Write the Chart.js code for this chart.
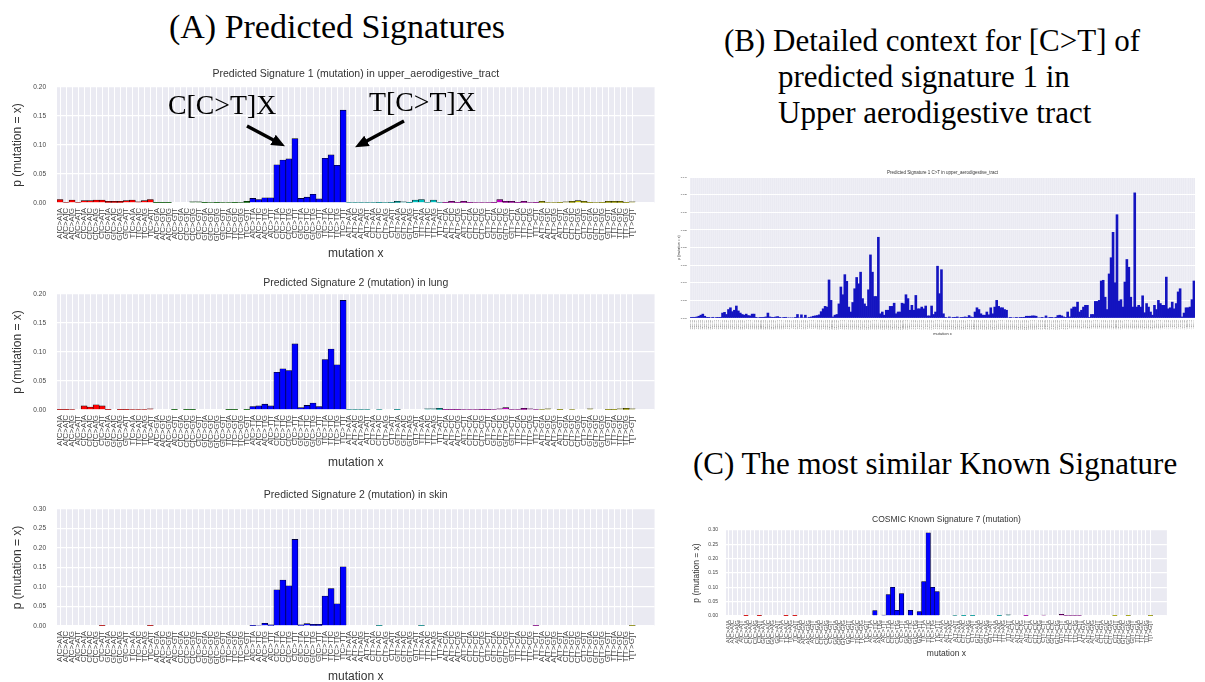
<!DOCTYPE html>
<html>
<head>
<meta charset="utf-8">
<script src="https://cdn.jsdelivr.net/npm/chart.js@4.4.1/dist/chart.umd.min.js"></script>
<style>
  html, body { margin: 0; padding: 0; background: #fff; width: 1205px; height: 682px; overflow: hidden; }
  .abs { position: absolute; white-space: nowrap; }
  .head { font-family: "Liberation Serif", "Times New Roman", serif; color: #000; line-height: 1; transform: translateY(-50%); }
  canvas { position: absolute; }
</style>
</head>
<body>

<div class="abs head" style="left:337px; top:27px; font-size:34px; transform:translate(-50%,-50%);">(A) Predicted Signatures</div>
<div class="abs head" style="left:724px; top:40px; font-size:31px;">(B) Detailed context for [C&gt;T] of</div>
<div class="abs head" style="left:778px; top:76px; font-size:31px;">predicted signature 1 in</div>
<div class="abs head" style="left:778px; top:112px; font-size:31px;">Upper aerodigestive tract</div>
<div class="abs head" style="left:693px; top:463px; font-size:31px;">(C) The most similar Known Signature</div>

<canvas id="sigUpper" width="665" height="205" style="left:0px; top:60px;"></canvas>
<canvas id="sigLung" width="665" height="204" style="left:0px; top:270px;"></canvas>
<canvas id="sigSkin" width="665" height="206" style="left:0px; top:482px;"></canvas>
<canvas id="ctxDetail" width="526" height="175" style="left:674px; top:165px;"></canvas>
<canvas id="cosmic7" width="490" height="152" style="left:685px; top:510px;"></canvas>

<div class="abs head" style="left:168px; top:105px; font-size:27.8px;">C[C&gt;T]X</div>
<div class="abs head" style="left:369px; top:102px; font-size:27.8px;">T[C&gt;T]X</div>
<svg class="abs" style="left:0; top:0;" width="1205" height="682">
  <defs>
    <marker id="arrowHead" markerWidth="4" markerHeight="3.4" refX="2" refY="1.7" orient="auto" markerUnits="strokeWidth">
      <path d="M0,0 L4,1.7 L0,3.4 z" fill="#000"/>
    </marker>
  </defs>
  <line x1="247" y1="126" x2="279" y2="143" stroke="#000" stroke-width="3.4" marker-end="url(#arrowHead)"/>
  <line x1="404" y1="121" x2="361" y2="144" stroke="#000" stroke-width="3.4" marker-end="url(#arrowHead)"/>
</svg>

<script>
// ---- categories ----
const BASES = ['A', 'C', 'G', 'T'];
const SUBSTITUTIONS = ['C>A', 'C>G', 'C>T', 'T>A', 'T>C', 'T>G'];
const GROUP_COLORS = ['#ff0000', '#008000', '#0000ff', '#00bfbf', '#bf00bf', '#bfbf00'];

// ---- 96-channel signatures (one row of 16 per substitution class) ----
const sigUpperAerodigestive = [
  0.006, 0.001, 0.005, 0.001, 0.004, 0.004, 0.005, 0.005, 0.003, 0.003, 0.003, 0.004, 0.005, 0.002, 0.004, 0.006,
  0.0005, 0.0005, 0.0005, 0, 0, 0, 0.002, 0.002, 0.0005, 0.001, 0.0005, 0.001, 0.001, 0.0005, 0.001, 0.003,
  0.008, 0.006, 0.009, 0.009, 0.066, 0.074, 0.076, 0.111, 0.008, 0.010, 0.015, 0.007, 0.077, 0.083, 0.065, 0.160,
  0.001, 0.001, 0.001, 0.001, 0.001, 0.0005, 0.001, 0.0005, 0.003, 0.002, 0.0005, 0.005, 0.006, 0.001, 0.005, 0.001,
  0.0005, 0.003, 0.0005, 0.003, 0.0005, 0.001, 0.001, 0.001, 0.0005, 0.006, 0.003, 0.003, 0.0005, 0.003, 0.001, 0.0005,
  0.003, 0.001, 0.001, 0.0005, 0.002, 0.003, 0.004, 0.003, 0.0005, 0.001, 0.0005, 0.003, 0.003, 0.003, 0.0005, 0.002
];
const sigLung = [
  0.0005, 0.0005, 0.001, 0, 0.007, 0.005, 0.009, 0.007, 0.0005, 0, 0.0005, 0.0005, 0.001, 0.001, 0.001, 0.002,
  0, 0, 0, 0.0005, 0, 0.0005, 0.0005, 0, 0, 0, 0, 0, 0.0005, 0.0005, 0, 0.0005,
  0.006, 0.007, 0.010, 0.007, 0.065, 0.071, 0.068, 0.114, 0.004, 0.008, 0.012, 0.006, 0.087, 0.105, 0.078, 0.189,
  0.001, 0.001, 0.001, 0.001, 0, 0.001, 0, 0, 0.0005, 0, 0, 0, 0, 0.002, 0.002, 0.003,
  0.0005, 0.0005, 0.0005, 0.001, 0.001, 0.001, 0.0005, 0.0005, 0.001, 0.002, 0.004, 0.001, 0.001, 0.003, 0.002, 0.001,
  0.001, 0.002, 0, 0.0005, 0, 0.001, 0, 0, 0.002, 0, 0, 0.0005, 0.0005, 0.002, 0.003, 0.002
];
const sigSkin = [
  0, 0, 0, 0, 0, 0, 0, 0.001, 0, 0, 0, 0, 0, 0, 0, 0.001,
  0, 0, 0, 0, 0, 0, 0, 0, 0, 0, 0, 0, 0, 0, 0, 0,
  0.001, 0.002, 0.007, 0.003, 0.093, 0.118, 0.103, 0.222, 0.003, 0.006, 0.004, 0.004, 0.077, 0.096, 0.057, 0.152,
  0, 0, 0, 0, 0, 0.001, 0, 0, 0, 0, 0, 0, 0.001, 0, 0, 0,
  0, 0, 0, 0, 0, 0, 0, 0, 0, 0, 0, 0, 0, 0, 0, 0.001,
  0, 0, 0, 0, 0, 0, 0, 0, 0, 0, 0, 0, 0, 0, 0, 0.001
];
const cosmicSignature7 = [
  0, 0, 0, 0, 0.0005, 0, 0, 0.0005, 0, 0, 0, 0, 0, 0.0005, 0, 0.0005,
  0, 0, 0, 0, 0, 0, 0, 0, 0, 0, 0, 0, 0, 0, 0, 0,
  0, 0.019, 0, 0.003, 0.075, 0.100, 0.020, 0.078, 0, 0.020, 0, 0.015, 0.120, 0.290, 0.100, 0.085,
  0, 0, 0, 0.002, 0, 0.0005, 0, 0.0005, 0, 0, 0, 0, 0, 0.0005, 0, 0.004,
  0, 0, 0, 0.0005, 0, 0, 0, 0.003, 0, 0, 0, 0.006, 0.002, 0.002, 0.002, 0.002,
  0, 0, 0, 0, 0, 0, 0, 0.0005, 0, 0, 0.0005, 0, 0, 0, 0, 0.0005
];

// ---- extended C>T context (two flanking bases each side), grouped by outermost 5' base ----
const ctxFirstA = [
  0.0001, 0.0002, 0.0002, 0.0003, 0.0005, 0.0008, 0.0011, 0.0005, 0.0001, 0.0001, 0, 0.0002, 0, 0.0001, 0.0001, 0.0002,
  0.0014, 0.0016, 0.0010, 0.0024, 0.0029, 0.0018, 0.0022, 0.0034, 0.0020, 0.0014, 0.0010, 0.0008, 0.0011, 0.0007, 0.0006, 0.0011,
  0.0011, 0.0001, 0, 0.0001, 0.0001, 0.0002, 0.0003, 0.0014, 0.0003, 0.0002, 0.0001, 0.0003, 0.0004, 0.0001, 0, 0.0001,
  0.0002, 0, 0, 0, 0, 0.0001, 0.0010, 0, 0.0009, 0, 0.0008, 0, 0.0002, 0.0003, 0.0005, 0.0006
];
const ctxFirstC = [
  0.0007, 0.0009, 0.0018, 0.0026, 0.0033, 0.0031, 0.0108, 0.0050, 0.0003, 0.0008, 0.0010, 0.0040, 0.0088, 0.0066, 0.0123, 0.0104,
  0.0031, 0.0017, 0.0044, 0.0083, 0.0115, 0.0097, 0.0130, 0.0055, 0.0040, 0.0033, 0.0080, 0.0179, 0.0130, 0.0061, 0.0061, 0.0229,
  0.0012, 0.0017, 0.0008, 0.0022, 0.0022, 0.0033, 0.0033, 0.0042, 0.0012, 0.0017, 0.0017, 0.0042, 0.0040, 0.0066, 0.0055, 0.0022,
  0.0036, 0.0022, 0.0064, 0.0026, 0.0026, 0.0031, 0.0026, 0.0034, 0.0006, 0.0006, 0.0034, 0.0010, 0.0017, 0.0147, 0.0069, 0.0137
];
const ctxFirstG = [
  0.0012, 0.0001, 0, 0.0003, 0, 0.0001, 0.0002, 0.0003, 0, 0.0001, 0.0002, 0.0003, 0.0001, 0.0007, 0.0003, 0.0001,
  0.0017, 0.0029, 0.0024, 0.0012, 0.0008, 0.0008, 0.0017, 0.0009, 0.0029, 0.0012, 0.0031, 0.0050, 0.0033, 0.0029, 0.0029, 0.0024,
  0.0022, 0, 0.0001, 0, 0, 0.0001, 0, 0.0001, 0.0001, 0.0002, 0.0005, 0.0005, 0.0005, 0.0006, 0.0006, 0.0005,
  0, 0, 0.0001, 0, 0.0006, 0, 0.0001, 0.0001, 0, 0.0002, 0.0007, 0.0008, 0.0006, 0.0003, 0.0001, 0.0017
];
const ctxFirstT = [
  0.0003, 0.0026, 0.0031, 0.0031, 0.0045, 0.0017, 0.0022, 0.0031, 0.0036, 0.0036, 0.0001, 0.0010, 0.0010, 0.0047, 0.0047, 0.0050,
  0.0105, 0.0107, 0.0059, 0.0024, 0.0125, 0.0171, 0.0243, 0.0100, 0.0293, 0.0048, 0.0052, 0.0031, 0.0102, 0.0166, 0.0144, 0.0059,
  0.0031, 0.0355, 0.0031, 0.0036, 0.0031, 0.0063, 0.0015, 0.0041, 0.0031, 0.0017, 0.0008, 0.0036, 0.0024, 0.0050, 0.0041, 0.0036,
  0.0036, 0.0116, 0.0026, 0.0029, 0.0045, 0.0026, 0.0041, 0.0074, 0.0083, 0.0003, 0.0014, 0.0029, 0.0029, 0.0031, 0.0052, 0.0105
];

// ---- tick labels built from the base / substitution lists ----
const MUTATION_LABELS = SUBSTITUTIONS.flatMap(s => BASES.flatMap(a => BASES.map(b => `${a}[${s}]${b}`)));
const CONTEXT_LABELS = BASES.flatMap(a => BASES.flatMap(b => BASES.flatMap(c => BASES.map(d => `${a}${b}[C>T]${c}${d}`))));
const contextValues = [...ctxFirstA, ...ctxFirstC, ...ctxFirstG, ...ctxFirstT];

const SANS = '"Liberation Sans", Arial, sans-serif';

// grey panel background painted behind the grid
const panelBackground = {
  id: 'panelBackground',
  beforeDraw(chart) {
    const { ctx, chartArea: a } = chart;
    ctx.save();
    ctx.fillStyle = '#eaeaf2';
    ctx.fillRect(a.left, a.top, a.right - a.left, a.bottom - a.top);
    ctx.restore();
  }
};

// small centred title above each panel
const panelTitle = {
  id: 'panelTitle',
  afterDraw(chart, args, opts) {
    const { ctx, chartArea: a } = chart;
    ctx.save();
    ctx.font = `${opts.size}px ${SANS}`;
    ctx.fillStyle = '#333';
    ctx.textAlign = 'center';
    ctx.textBaseline = 'middle';
    ctx.fillText(opts.text, (a.left + a.right) / 2, a.top - opts.gap);
    ctx.restore();
  }
};

function makeChart(id, cfg) {
  const n = cfg.labels.length;
  return new Chart(document.getElementById(id), {
    type: 'bar',
    data: {
      datasets: [{
        data: cfg.values.map((v, i) => ({ x: i, y: v })),
        backgroundColor: cfg.colors,
        borderColor: cfg.edge,
        borderWidth: cfg.edgeWidth,
        barPercentage: 1,
        categoryPercentage: 1
      }]
    },
    options: {
      responsive: false,
      animation: false,
      devicePixelRatio: 1,
      layout: { padding: cfg.padding },
      plugins: {
        legend: { display: false },
        tooltip: { enabled: false },
        panelTitle: { text: cfg.title, size: cfg.titleSize, gap: cfg.titleGap }
      },
      scales: {
        x: {
          type: 'linear',
          min: -0.5,
          max: cfg.xMax,
          offset: false,
          afterFit(s) { s.height = cfg.xHeight; },
          border: { display: false },
          grid: {
            offset: false,
            drawTicks: false,
            lineWidth: cfg.vGridWidth,
            color: c => (c.tick && Number.isInteger(c.tick.value) && c.tick.value < n) ? cfg.vGridColor : 'rgba(0,0,0,0)'
          },
          ticks: {
            stepSize: 1,
            includeBounds: false,
            autoSkip: false,
            minRotation: 90,
            maxRotation: 90,
            padding: cfg.xTickPad,
            color: '#444',
            font: { family: SANS, size: cfg.xTickSize },
            callback: v => (Number.isInteger(v) && v >= 0 && v < n) ? cfg.labels[v] : ''
          },
          title: {
            display: true,
            text: 'mutation x',
            color: '#333',
            font: { family: SANS, size: cfg.axisTitleSize },
            padding: { top: 0, bottom: cfg.xTitlePad }
          }
        },
        y: {
          min: 0,
          max: cfg.yMax,
          afterFit(s) { s.width = cfg.yWidth; },
          border: { display: false },
          grid: { color: '#ffffff', lineWidth: cfg.hGridWidth, drawTicks: false },
          ticks: {
            stepSize: cfg.yStep,
            padding: cfg.yTickPad,
            color: '#444',
            font: { family: SANS, size: cfg.yTickSize },
            callback: v => v.toFixed(cfg.yDigits)
          },
          title: {
            display: true,
            text: 'p (mutation = x)',
            color: '#333',
            font: { family: SANS, size: cfg.yTitleSize },
            padding: { top: cfg.yTitlePad, bottom: 0 }
          }
        }
      }
    },
    plugins: [panelBackground, panelTitle]
  });
}

const groupColors = values => values.map((v, i) => GROUP_COLORS[Math.floor(i / 16)]);

const signatureStyle = {
  labels: MUTATION_LABELS,
  edge: '#000', edgeWidth: 0.6,
  xMax: 98.7, yWidth: 57,
  vGridColor: '#ffffff', vGridWidth: 1, hGridWidth: 1.3,
  xTickPad: 5, xTickSize: 8, axisTitleSize: 12, xTitlePad: 3.8,
  yTickPad: 11, yTickSize: 6.5, yDigits: 2, yTitleSize: 12, yTitlePad: 10.8,
  titleSize: 10.5
};

makeChart('sigUpper', Object.assign({}, signatureStyle, {
  values: sigUpperAerodigestive, colors: groupColors(sigUpperAerodigestive),
  padding: { top: 27, right: 7, left: 0, bottom: 0 }, xHeight: 62,
  yMax: 0.20, yStep: 0.05,
  title: 'Predicted Signature 1 (mutation) in upper_aerodigestive_tract', titleGap: 13
}));

makeChart('sigLung', Object.assign({}, signatureStyle, {
  values: sigLung, colors: groupColors(sigLung),
  padding: { top: 24, right: 7, left: 0, bottom: 0 }, xHeight: 64,
  yMax: 0.20, yStep: 0.05,
  title: 'Predicted Signature 2 (mutation) in lung', titleGap: 11
}));

makeChart('sigSkin', Object.assign({}, signatureStyle, {
  values: sigSkin, colors: groupColors(sigSkin),
  padding: { top: 27, right: 7, left: 0, bottom: 0 }, xHeight: 62,
  yMax: 0.30, yStep: 0.05,
  title: 'Predicted Signature 2 (mutation) in skin', titleGap: 14
}));

makeChart('cosmic7', Object.assign({}, signatureStyle, {
  values: cosmicSignature7, colors: groupColors(cosmicSignature7),
  padding: { top: 20, right: 5, left: 0, bottom: 0 }, xHeight: 46, yWidth: 41,
  yMax: 0.30, yStep: 0.05,
  xTickPad: 4, xTickSize: 6, axisTitleSize: 8.5, xTitlePad: 2.9,
  yTickPad: 8, yTickSize: 5, yTitleSize: 8.5, yTitlePad: 6.9,
  edgeWidth: 0.5,
  title: 'COSMIC Known Signature 7 (mutation)', titleSize: 8.5, titleGap: 10
}));

makeChart('ctxDetail', {
  labels: CONTEXT_LABELS,
  values: contextValues, colors: '#1414c0',
  edge: '#0a0a80', edgeWidth: 0,
  padding: { top: 12, right: 5, left: 0, bottom: 0 },
  xMax: 255.55, xHeight: 22, yWidth: 16,
  vGridColor: 'rgba(255,255,255,0.45)', vGridWidth: 0.5, hGridWidth: 1,
  xTickPad: 2, xTickSize: 1.8, axisTitleSize: 4, xTitlePad: 3.6,
  yMax: 0.04, yStep: 0.005, yTickPad: 3, yTickSize: 2.5, yDigits: 3, yTitleSize: 3.5, yTitlePad: 2.9,
  title: 'Predicted Signature 1 C>T in upper_aerodigestive_tract', titleSize: 4.5, titleGap: 4
});
</script>
</body>
</html>
